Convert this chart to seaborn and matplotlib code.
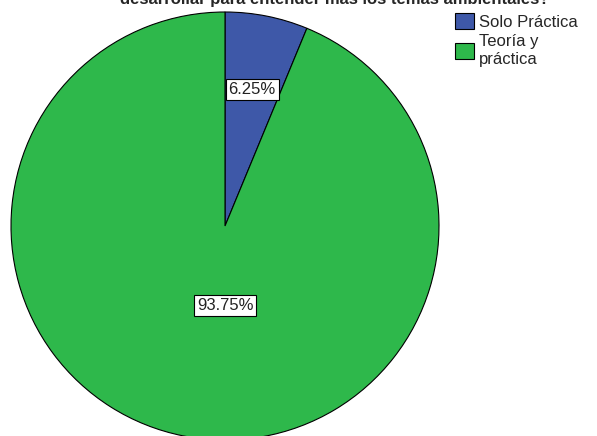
import matplotlib
matplotlib.use("Agg")
import matplotlib.pyplot as plt
import seaborn as sns
from matplotlib.patches import Patch

sns.set_theme(style="white")
plt.rcParams['font.family'] = ['Liberation Sans', 'DejaVu Sans']

categories = ["Solo Práctica", "Teoría y\npráctica"]
values = [6.25, 93.75]
colors = ["#3e58a8", "#2eb84b"]
title = "¿Qué tipo de actividades se deberían\ndesarrollar para entender más los temas ambientales?"

W, H = 597, 436
fig = plt.figure(figsize=(W / 100, H / 100), dpi=100)
cx, cy, r = 225, 226, 214
ax = fig.add_axes([(cx - r) / W, (H - cy - r) / H, 2 * r / W, 2 * r / H])

wedges, texts, autotexts = ax.pie(
    values, colors=colors, startangle=90, counterclock=False,
    autopct=lambda p: f"{p:.2f}%", pctdistance=0.65,
    wedgeprops=dict(edgecolor="black", linewidth=0.8),
    textprops=dict(fontsize=12, color="#222222"),
)
ax.set_xlim(-1, 1)
ax.set_ylim(-1, 1)
ax.set_aspect("equal")
ax.axis("off")

for t in autotexts:
    t.set_bbox(dict(facecolor="white", edgecolor="black", linewidth=0.8, pad=2))
autotexts[1].set_position((0.0, -0.37))

fig.text(0.56, 1 - 4 / H, title, ha="center", va="baseline",
         fontsize=12, fontweight="bold", linespacing=1.2)

handles = [Patch(facecolor=c, edgecolor="black", linewidth=0.8) for c in colors]
fig.legend(handles, categories, loc="upper left", bbox_to_anchor=(452 / W, 1 - 10 / H),
           frameon=False, fontsize=12, handlelength=1.1, handleheight=1.1,
           handletextpad=0.3, labelspacing=0.25, borderaxespad=0, borderpad=0.2)

fig.savefig("out.png", dpi=100, facecolor="white")
